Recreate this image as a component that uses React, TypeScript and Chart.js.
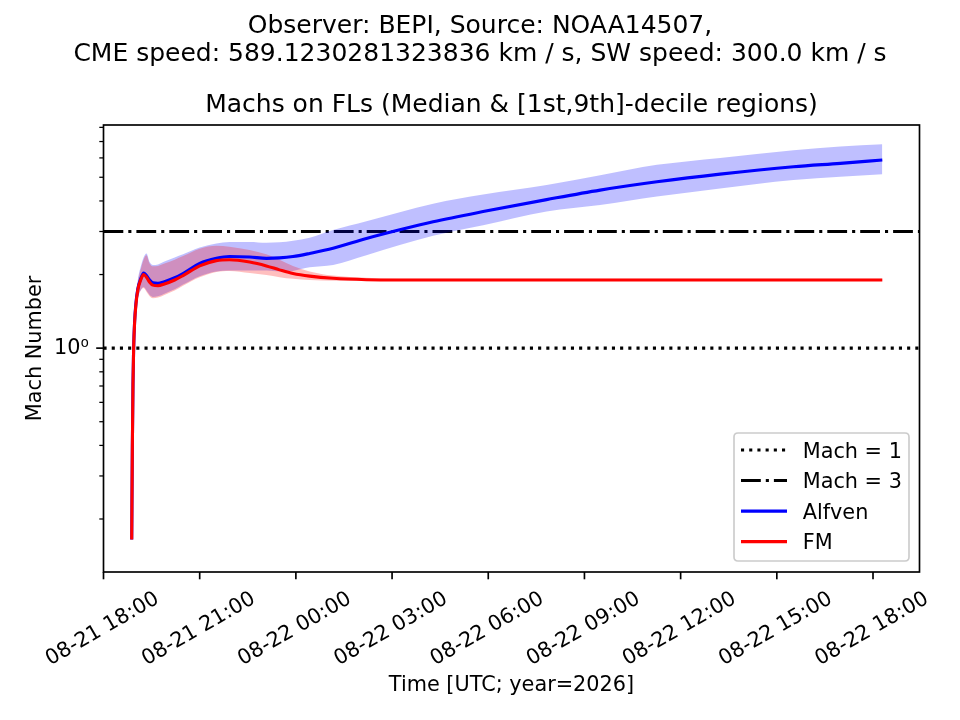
import { useEffect, useRef } from "react";
import { Chart, registerables } from "chart.js";

Chart.register(...registerables);

// hours since 08-21 18:00 UTC (2026)
const timeHours = [0.88, 0.9, 0.92, 0.94, 0.97, 1.01, 1.07, 1.16, 1.25, 1.34, 1.44, 1.54, 1.7, 1.9, 2.22, 2.48, 3.0, 3.52, 3.93, 4.56, 5.08, 5.49, 5.91, 6.43, 7.16, 8.2, 9.24, 10.28, 11.84, 13.82, 15.49, 17.26, 19.23, 21.52, 22.98, 24.29];

const alfvenMedian = [0.165, 0.4, 0.72, 1.0, 1.28, 1.52, 1.75, 1.92, 2.03, 1.98, 1.9, 1.85, 1.84, 1.87, 1.94, 2.02, 2.22, 2.33, 2.37, 2.36, 2.33, 2.34, 2.37, 2.44, 2.56, 2.81, 3.05, 3.29, 3.62, 4.05, 4.43, 4.79, 5.15, 5.52, 5.7, 5.88];
const alfvenHigh = [0.17, 0.42, 0.76, 1.06, 1.36, 1.62, 1.9, 2.15, 2.35, 2.44, 2.25, 2.19, 2.2, 2.26, 2.35, 2.42, 2.58, 2.68, 2.72, 2.72, 2.7, 2.71, 2.75, 2.83, 3.04, 3.3, 3.6, 3.9, 4.25, 4.65, 5.1, 5.62, 6.0, 6.45, 6.68, 6.82];
const alfvenLow = [0.16, 0.38, 0.68, 0.95, 1.2, 1.42, 1.6, 1.72, 1.78, 1.72, 1.65, 1.62, 1.63, 1.67, 1.74, 1.82, 1.97, 2.06, 2.08, 2.08, 2.08, 2.06, 2.07, 2.14, 2.19, 2.4, 2.64, 2.88, 3.18, 3.62, 3.85, 4.17, 4.5, 4.87, 5.02, 5.14];

const fmMedian = [0.165, 0.4, 0.72, 1.0, 1.27, 1.5, 1.73, 1.9, 2.0, 1.95, 1.86, 1.81, 1.8, 1.83, 1.9, 1.98, 2.17, 2.28, 2.3, 2.25, 2.17, 2.09, 2.02, 1.97, 1.93, 1.905, 1.9, 1.9, 1.9, 1.9, 1.9, 1.9, 1.9, 1.9, 1.9, 1.9];
const fmHigh = [0.17, 0.42, 0.76, 1.05, 1.34, 1.6, 1.86, 2.1, 2.3, 2.4, 2.22, 2.16, 2.17, 2.22, 2.3, 2.38, 2.55, 2.62, 2.6, 2.52, 2.42, 2.3, 2.17, 2.06, 1.98, 1.94, 1.92, 1.92, 1.92, 1.92, 1.92, 1.92, 1.92, 1.92, 1.92, 1.92];
const fmLow = [0.16, 0.38, 0.68, 0.95, 1.2, 1.42, 1.6, 1.72, 1.76, 1.7, 1.63, 1.6, 1.61, 1.65, 1.72, 1.8, 1.95, 2.05, 2.07, 2.03, 1.99, 1.95, 1.92, 1.9, 1.885, 1.88, 1.88, 1.88, 1.88, 1.88, 1.88, 1.88, 1.88, 1.88, 1.88, 1.88];

const machLevels = [1, 3];
const xTickHours = [0, 3, 6, 9, 12, 15, 18, 21, 24];
const yTickValues = [0.2, 0.3, 0.4, 0.5, 0.6, 0.7, 0.8, 0.9, 1, 2, 3, 4, 5, 6, 7, 8];
const legendLabels = ["Mach = 1", "Mach = 3", "Alfven", "FM"];

const titleLine1 = "Observer: BEPI, Source: NOAA14507,";
const titleLine2 = "CME speed: 589.1230281323836 km / s, SW speed: 300.0 km / s";
const axesTitle = "Machs on FLs (Median & [1st,9th]-decile regions)";
const xTitle = "Time [UTC; year=2026]";
const yTitle = "Mach Number";

const X_MIN = 0;
const X_MAX = 25.45;
const Y_MIN = 0.1214;
const Y_MAX = 8.18;

const FONT = '"DejaVu Sans", "Liberation Sans", sans-serif';

function fmtTime(h: number): string {
  const total = 18 + Math.round(h);
  const day = 21 + Math.floor(total / 24);
  const hr = total % 24;
  return `08-${String(day).padStart(2, "0")} ${String(hr).padStart(2, "0")}:00`;
}

function pts(vals: number[]) {
  return vals.map((v, i) => ({ x: timeHours[i], y: v }));
}

const DOT = [3.1, 5.1];
const DASHDOT = [19.8, 5.0, 3.1, 5.0];

const overlay = {
  id: "overlay",
  afterDraw(chart: any) {
    const { ctx, chartArea: a, scales } = chart;
    const xs = scales.x;
    const ys = scales.y;
    ctx.save();
    ctx.strokeStyle = "#000";
    ctx.lineCap = "butt";
    // ticks
    ctx.lineWidth = 1.67;
    for (const h of xTickHours) {
      const px = xs.getPixelForValue(h);
      ctx.beginPath();
      ctx.moveTo(px, a.bottom);
      ctx.lineTo(px, a.bottom + 7.3);
      ctx.stroke();
    }
    for (const v of yTickValues) {
      const py = ys.getPixelForValue(v);
      const major = v === 1;
      ctx.lineWidth = major ? 1.67 : 1.25;
      ctx.beginPath();
      ctx.moveTo(a.left, py);
      ctx.lineTo(a.left - (major ? 7.3 : 4.2), py);
      ctx.stroke();
    }
    // frame
    ctx.lineWidth = 1.67;
    ctx.strokeRect(a.left, a.top, a.right - a.left, a.bottom - a.top);

    // titles
    ctx.fillStyle = "#000";
    ctx.textAlign = "center";
    ctx.textBaseline = "alphabetic";
    ctx.font = `25px ${FONT}`;
    ctx.fillText(titleLine1, 480, 33);
    ctx.fillText(titleLine2, 480, 61);
    ctx.fillText(axesTitle, (a.left + a.right) / 2, 111.7);
    ctx.font = `20.8px ${FONT}`;
    ctx.fillText(xTitle, (a.left + a.right) / 2, 691);
    ctx.save();
    ctx.translate(41, (a.top + a.bottom) / 2);
    ctx.rotate(-Math.PI / 2);
    ctx.fillText(yTitle, 0, 0);
    ctx.restore();

    // legend
    const lx0 = 734, ly0 = 433, lx1 = 909, ly1 = 561, r = 4;
    ctx.beginPath();
    ctx.moveTo(lx0 + r, ly0);
    ctx.lineTo(lx1 - r, ly0);
    ctx.quadraticCurveTo(lx1, ly0, lx1, ly0 + r);
    ctx.lineTo(lx1, ly1 - r);
    ctx.quadraticCurveTo(lx1, ly1, lx1 - r, ly1);
    ctx.lineTo(lx0 + r, ly1);
    ctx.quadraticCurveTo(lx0, ly1, lx0, ly1 - r);
    ctx.lineTo(lx0, ly0 + r);
    ctx.quadraticCurveTo(lx0, ly0, lx0 + r, ly0);
    ctx.closePath();
    ctx.fillStyle = "rgba(255,255,255,0.8)";
    ctx.fill();
    ctx.strokeStyle = "#cccccc";
    ctx.lineWidth = 1.67;
    ctx.stroke();

    const styles = [
      { color: "#000", dash: DOT },
      { color: "#000", dash: DASHDOT },
      { color: "#0000ff", dash: [] as number[] },
      { color: "#ff0000", dash: [] as number[] },
    ];
    ctx.font = `20.8px ${FONT}`;
    ctx.textAlign = "left";
    ctx.textBaseline = "alphabetic";
    legendLabels.forEach((lab, i) => {
      const y = 450 + i * 30.55;
      ctx.strokeStyle = styles[i].color;
      ctx.setLineDash(styles[i].dash);
      ctx.lineWidth = 3.1;
      ctx.beginPath();
      ctx.moveTo(741, y);
      ctx.lineTo(787, y);
      ctx.stroke();
      ctx.setLineDash([]);
      ctx.fillStyle = "#000";
      ctx.fillText(lab, 802.7, y + 7.6);
    });
    ctx.restore();
  },
};

export default function App() {
  const ref = useRef<HTMLCanvasElement | null>(null);

  useEffect(() => {
    document.body.style.margin = "0";
    const canvas = ref.current;
    if (!canvas) return;

    const band = (vals: number[], fill: any, color: string, order: number) => ({
      data: pts(vals),
      borderColor: "rgba(0,0,0,0)",
      borderWidth: 0,
      backgroundColor: color,
      fill,
      pointRadius: 0,
      cubicInterpolationMode: "monotone",
      order,
    });
    const line = (vals: number[], color: string, order: number) => ({
      data: pts(vals),
      borderColor: color,
      borderWidth: 3.1,
      fill: false,
      pointRadius: 0,
      cubicInterpolationMode: "monotone",
      order,
    });
    const hline = (level: number, dash: number[], order: number) => ({
      data: [
        { x: X_MIN, y: level },
        { x: X_MAX, y: level },
      ],
      borderColor: "#000",
      borderWidth: 3.1,
      borderDash: dash,
      fill: false,
      pointRadius: 0,
      order,
    });

    const chart = new Chart(canvas, {
      type: "line",
      data: {
        datasets: [
          band(alfvenLow, false, "rgba(0,0,0,0)", 5),
          band(alfvenHigh, "-1", "rgba(0,0,255,0.25)", 4),
          band(fmLow, false, "rgba(0,0,0,0)", 3),
          band(fmHigh, "-1", "rgba(255,0,0,0.25)", 2),
          line(alfvenMedian, "#0000ff", 1),
          line(fmMedian, "#ff0000", 0),
          hline(machLevels[0], DOT, 7),
          hline(machLevels[1], DASHDOT, 6),
        ] as any,
      },
      options: {
        responsive: false,
        animation: false,
        devicePixelRatio: 1,
        layout: { padding: { top: 125, right: 40.5, bottom: 0, left: 0 } },
        plugins: {
          legend: { display: false },
          title: { display: false },
          tooltip: { enabled: false },
        },
        scales: {
          x: {
            type: "linear",
            min: X_MIN,
            max: X_MAX,
            afterBuildTicks: (s: any) => {
              s.ticks = xTickHours.map((v) => ({ value: v }));
            },
            afterFit: (s: any) => {
              s.height = 148;
              s.paddingLeft = 0;
              s.paddingRight = 0;
            },
            ticks: {
              autoSkip: false,
              minRotation: 30,
              maxRotation: 30,
              padding: 7.3,
              labelOffset: 54,
              color: "#000",
              font: { family: FONT, size: 20.8 },
              callback: (v: any) => fmtTime(Number(v)),
            },
            grid: { display: false, drawTicks: true, tickLength: 7.3 },
            border: { display: false },
          },
          y: {
            type: "logarithmic",
            min: Y_MIN,
            max: Y_MAX,
            afterBuildTicks: (s: any) => {
              s.ticks = yTickValues.map((v) => ({ value: v, major: v === 1 }));
            },
            afterFit: (s: any) => {
              s.width = 103.5;
              s.paddingTop = 0;
              s.paddingBottom = 0;
            },
            ticks: {
              autoSkip: false,
              padding: 7.3,
              color: "#000",
              font: { family: FONT, size: 20.8 },
              callback: (v: any) => (Number(v) === 1 ? "10\u2070" : ""),
            },
            grid: { display: false, drawTicks: true, tickLength: 7.3 },
            border: { display: false },
          },
        },
      } as any,
      plugins: [overlay],
    });

    return () => chart.destroy();
  }, []);

  return (
    <canvas
      ref={ref}
      width={960}
      height={720}
      style={{ display: "block", width: 960, height: 720 }}
    />
  );
}
